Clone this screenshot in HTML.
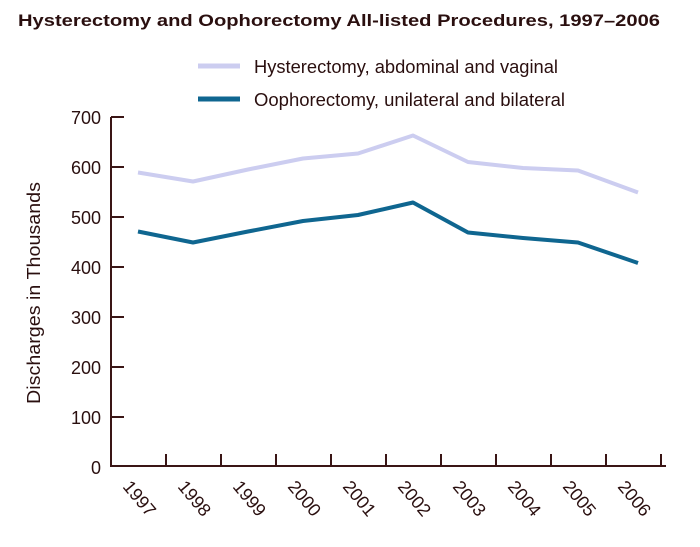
<!DOCTYPE html>
<html><head><style>
body{margin:0;background:#fff;}
svg text{font-family:"Liberation Sans",sans-serif;fill:#2a0f0f;}
</style></head><body>
<svg width="700" height="542" xmlns="http://www.w3.org/2000/svg">
<text x="18" y="26" font-size="17" font-weight="bold" textLength="642" lengthAdjust="spacingAndGlyphs">Hysterectomy and Oophorectomy All-listed Procedures, 1997–2006</text>
<line x1="198" y1="66" x2="240" y2="66" stroke="#cccdf0" stroke-width="5"/>
<text x="254" y="73" font-size="18" textLength="304" lengthAdjust="spacingAndGlyphs">Hysterectomy, abdominal and vaginal</text>
<line x1="198" y1="99" x2="240" y2="99" stroke="#0f6690" stroke-width="5"/>
<text x="254" y="106" font-size="18" textLength="311" lengthAdjust="spacingAndGlyphs">Oophorectomy, unilateral and bilateral</text>
<g stroke="#3a1515" stroke-width="2" fill="none">
<line x1="111" y1="117" x2="111" y2="467"/>
<line x1="110" y1="466" x2="666" y2="466"/>
<path d="M111 117h13M111 167h13M111 217h13M111 267h13M111 317h13M111 367h13M111 417h13"/>
<path d="M166 466v-12M221 466v-12M276 466v-12M331 466v-12M386 466v-12M441 466v-12M496 466v-12M551 466v-12M606 466v-12M661 466v-12"/>
</g>
<g font-size="18" text-anchor="end">
<text x="101" y="124">700</text><text x="101" y="174">600</text><text x="101" y="224">500</text><text x="101" y="274">400</text><text x="101" y="324">300</text><text x="101" y="374">200</text><text x="101" y="424">100</text><text x="101" y="474">0</text>
</g>
<text transform="translate(40,293) rotate(-90)" font-size="18" text-anchor="middle" textLength="222" lengthAdjust="spacingAndGlyphs">Discharges in Thousands</text>
<g font-size="18">
<text transform="translate(122,487) rotate(50)">1997</text>
<text transform="translate(177,487) rotate(50)">1998</text>
<text transform="translate(232,487) rotate(50)">1999</text>
<text transform="translate(287,487) rotate(50)">2000</text>
<text transform="translate(342,487) rotate(50)">2001</text>
<text transform="translate(397,487) rotate(50)">2002</text>
<text transform="translate(452,487) rotate(50)">2003</text>
<text transform="translate(507,487) rotate(50)">2004</text>
<text transform="translate(562,487) rotate(50)">2005</text>
<text transform="translate(617,487) rotate(50)">2006</text>
</g>
<polyline fill="none" stroke="#cccdf0" stroke-width="4" stroke-linejoin="round" points="138,172.5 193,181.5 248,169.5 303,158.5 358,153.5 413,135.5 468,162 523,168 578,170.5 638,192.5"/>
<polyline fill="none" stroke="#0f6690" stroke-width="4" stroke-linejoin="round" points="138,231.5 193,242.5 248,231.5 303,221 358,215 413,202.5 468,232.5 523,238 578,242.5 638,263"/>
</svg>
</body></html>
